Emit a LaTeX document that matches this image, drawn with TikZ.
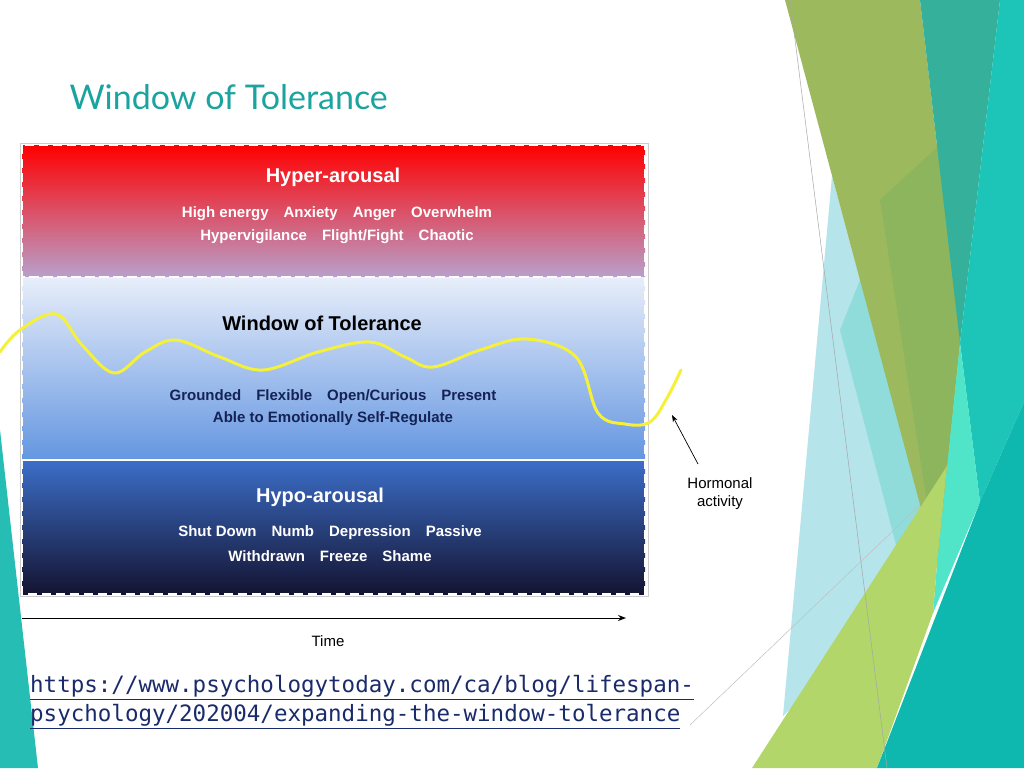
\documentclass[tikz,border=0pt]{standalone}
\usepackage{fontspec}
\setmainfont{Liberation Sans}
\newfontfamily\titlefont{Lato}
\newfontfamily\urlfont{DejaVu Sans Mono}
\usetikzlibrary{arrows.meta}
\definecolor{ttl}{HTML}{1BA3A0}
\definecolor{urlc}{HTML}{1A2B6B}
\tikzset{
  band/.style={draw=white,dashed,dash pattern=on 9pt off 5pt,line width=1.5pt},
  wtxt/.style={text=white,font=\bfseries\fontsize{15}{18}\selectfont,align=center},
  btxt/.style={text=urlc!80!black,font=\bfseries\fontsize{15}{18}\selectfont,align=center},
  head/.style={font=\bfseries\fontsize{20}{24}\selectfont},
}
\begin{document}
\begin{tikzpicture}[x=1pt,y=-1pt]
\useasboundingbox (0,0) rectangle (1024,768);
\fill[white] (0,0) rectangle (1024,768);
% right decoration
\fill[color={rgb,255:red,181;green,229;blue,234}] (832,176) -- (937,564) -- (783,716) -- cycle;
\fill[color={rgb,255:red,143;green,220;blue,218}] (860,280) -- (937,564) -- (900,560) -- (840,330) -- cycle;
\fill[color={rgb,255:red,157;green,185;blue,94}] (785,0) -- (920,0) -- (960,343) -- (937,568) -- cycle;
\fill[color={rgb,255:red,140;green,181;blue,94}] (880,200) -- (945,140) -- (960,343) -- (937,568) -- cycle;
\fill[color={rgb,255:red,53;green,176;blue,154}] (920,0) -- (1000,0) -- (960,343) -- cycle;
\fill[color={rgb,255:red,28;green,197;blue,184}] (1000,0) -- (1024,0) -- (1024,402) -- (980,502) -- (960,343) -- cycle;
\fill[color={rgb,255:red,80;green,229;blue,200}] (960,343) -- (980,502) -- (933,613) -- (937,564) -- cycle;
\fill[color={rgb,255:red,178;green,214;blue,106}] (752,768) -- (947,466) -- (937,564) -- (933,613) -- (877,768) -- cycle;
\fill[color={rgb,255:red,15;green,184;blue,174}] (877,768) -- (980,502) -- (1024,402) -- (1024,768) -- cycle;
\draw[gray!70,line width=0.5pt] (790,0) -- (887,768);
\draw[gray!50,line width=0.5pt] (690,725) -- (920,505);
% left sliver
\fill[color={rgb,255:red,38;green,189;blue,181}] (0,430) -- (38,768) -- (0,768) -- cycle;
% title
\node[anchor=west,text=ttl,font=\titlefont\fontsize{34}{40}\selectfont] (title) at (66,97) {Window of Tolerance};
% bands
\shade[top color={rgb,255:red,255;green,0;blue,0},bottom color={rgb,255:red,184;green,160;blue,204}] (22,145) rectangle (645,277);
\shade[top color={rgb,255:red,232;green,238;blue,250},bottom color={rgb,255:red,100;green,150;blue,225}] (22,277) rectangle (645,460);
\shade[top color={rgb,255:red,60;green,110;blue,200},bottom color={rgb,255:red,20;green,20;blue,50}] (22,460) rectangle (645,594);
\draw[gray!40,line width=0.6pt] (20,143) rectangle (648,596);
\draw[band] (22,145) rectangle (645,277);
\draw[band] (22,277) rectangle (645,460);
\draw[band] (22,460) rectangle (645,594);
% texts
\node[wtxt,head] (h1) at (333,177) {Hyper-arousal};
\node[wtxt] (h2) at (337,214) {High energy\quad Anxiety\quad Anger\quad Overwhelm};
\node[wtxt] (h3) at (337,237) {Hypervigilance\quad Flight/Fight\quad Chaotic};
\node[head,text=black] (w1) at (322,323) {Window of Tolerance};
\node[btxt] (w2) at (333,397) {Grounded\quad Flexible\quad Open/Curious\quad Present};
\node[btxt] (w3) at (333,419) {Able to Emotionally Self-Regulate};
\node[wtxt,head] (p1) at (320,497) {Hypo-arousal};
\node[wtxt] (p2) at (330,533) {Shut Down\quad Numb\quad Depression\quad Passive};
\node[wtxt] (p3) at (330,556) {Withdrawn\quad Freeze\quad Shame};
% wave
\draw[color={rgb,255:red,245;green,240;blue,58},line width=3pt,line cap=round]
  plot[smooth,tension=0.6] coordinates {(0,352) (20,330) (56,314) (82,345) (114,373) (145,352) (176,340) (220,357) (263,370) (318,352) (370,342) (405,357) (433,367) (480,350) (527,339) (576,357) (598,413) (625,424) (650,422) (667,398) (681,370)};
% time axis
\coordinate (t0) at (22,618);
\coordinate (t1) at (626,618);
\draw[-{Stealth[length=8pt,width=6pt]},line width=1pt] (t0) -- (t1);
\node[font=\fontsize{15}{18}\selectfont] (time) at (328,641) {Time};
\node[font=\fontsize{15}{18}\selectfont,align=center] (horm) at (720,494) {Hormonal\\activity};
\coordinate (ha) at (672,415);
\coordinate (hb) at (698,464);
\draw[-{Stealth[length=7pt,width=5pt]},line width=0.7pt] (hb) -- (ha);
% url
\node[anchor=west,text=urlc,font=\urlfont\fontsize{22.5}{29}\selectfont,align=left,inner sep=0] (url) at (30,702)
 {\underline{https://www.psychologytoday.com/ca/blog/lifespan-}\\\underline{psychology/202004/expanding-the-window-tolerance}};
\end{tikzpicture}
\end{document}
